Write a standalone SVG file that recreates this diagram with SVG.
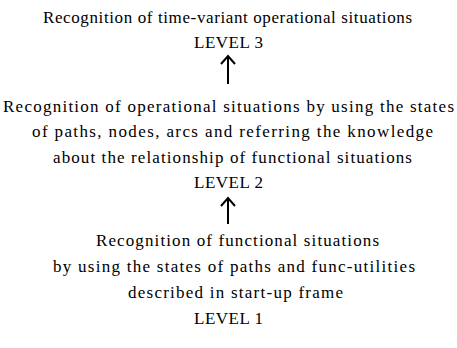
<svg xmlns="http://www.w3.org/2000/svg" width="457" height="348" viewBox="0 0 457 348">
<style>
.t{font-family:"Liberation Serif","Times New Roman",serif;font-size:17px;fill:#000;}
.lv{font-family:"Liberation Serif","Times New Roman",serif;font-size:17px;fill:#000;letter-spacing:0.5px;}
.a{stroke:#000;stroke-width:2;fill:none;}
</style>
<rect width="457" height="348" fill="#fff"/>
<g id="level3">
<text class="t" x="43" y="23" textLength="369" lengthAdjust="spacing">Recognition of time-variant operational situations</text>
<text class="lv" x="194" y="48">LEVEL 3</text>
</g>
<g id="level2">
<text class="t" x="3" y="112" textLength="451" lengthAdjust="spacing">Recognition of operational situations by using the states</text>
<text class="t" x="32" y="137" textLength="401" lengthAdjust="spacing">of paths, nodes, arcs and referring the knowledge</text>
<text class="t" x="53" y="163" textLength="359" lengthAdjust="spacing">about the relationship of functional situations</text>
<text class="lv" x="194" y="188">LEVEL 2</text>
</g>
<g id="level1">
<text class="t" x="96" y="246" textLength="283" lengthAdjust="spacing">Recognition of functional situations</text>
<text class="t" x="53" y="272" textLength="362" lengthAdjust="spacing">by using the states of paths and func-utilities</text>
<text class="t" x="128" y="298" textLength="215" lengthAdjust="spacing">described in start-up frame</text>
<text class="lv" x="194" y="324">LEVEL 1</text>
</g>
<g id="connectors">
<path class="a" d="M228 84 V56 M221 64 L228 56 L235 64"/>
<path class="a" d="M228 224 V198 M221 206 L228 198 L235 206"/>
</g>
</svg>
